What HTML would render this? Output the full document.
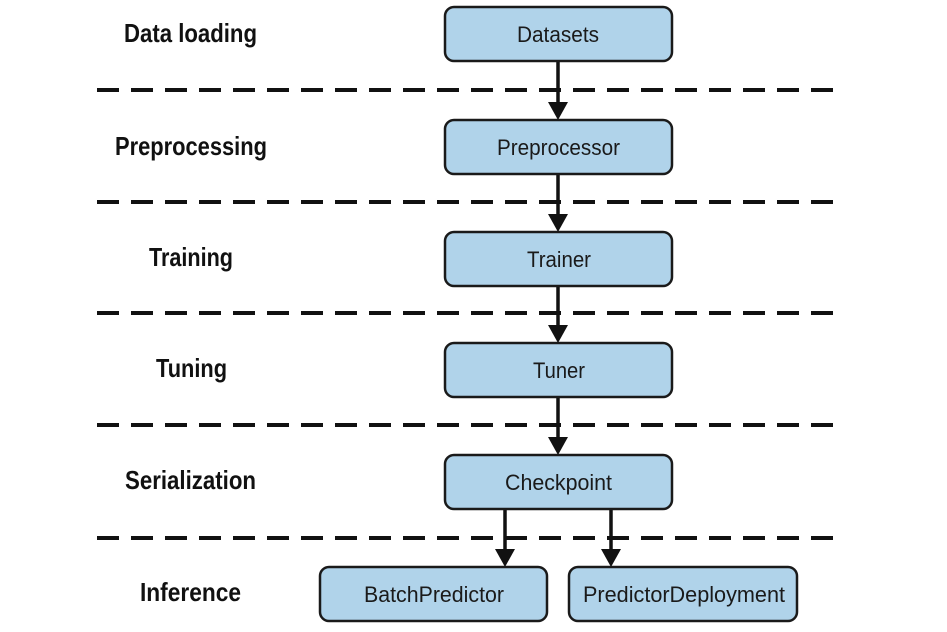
<!DOCTYPE html>
<html><head><meta charset="utf-8"><style>
body{margin:0;background:#fff;width:947px;height:632px;overflow:hidden}
svg{display:block}
.l{font-family:"Liberation Sans",sans-serif;font-weight:bold;font-size:26px;fill:#111}
.b{font-family:"Liberation Sans",sans-serif;font-size:22px;fill:#1a1a1a}
rect{fill:#b0d3ea;stroke:#1a1a1a;stroke-width:2.5}
.d{stroke:#111;stroke-width:4;stroke-dasharray:22 12}
.a{stroke:#111;stroke-width:3.5}
</style></head><body>
<svg width="947" height="632">
<g>
<line class="d" x1="97" y1="90" x2="835" y2="90"/>
<line class="d" x1="97" y1="202" x2="835" y2="202"/>
<line class="d" x1="97" y1="313" x2="835" y2="313"/>
<line class="d" x1="97" y1="425" x2="835" y2="425"/>
<line class="d" x1="97" y1="538" x2="835" y2="538"/>
</g>
<g fill="#111">
<line class="a" x1="558" y1="61" x2="558" y2="104"/><path d="M548,102 L568,102 L558,120z"/>
<line class="a" x1="558" y1="174" x2="558" y2="216"/><path d="M548,214 L568,214 L558,232z"/>
<line class="a" x1="558" y1="286" x2="558" y2="327"/><path d="M548,325 L568,325 L558,343z"/>
<line class="a" x1="558" y1="397" x2="558" y2="439"/><path d="M548,437 L568,437 L558,455z"/>
<line class="a" x1="505" y1="509" x2="505" y2="551"/><path d="M495,549 L515,549 L505,567z"/>
<line class="a" x1="611" y1="509" x2="611" y2="551"/><path d="M601,549 L621,549 L611,567z"/>
</g>
<rect x="445" y="7" width="227" height="54" rx="9"/>
<rect x="445" y="120" width="227" height="54" rx="9"/>
<rect x="445" y="232" width="227" height="54" rx="9"/>
<rect x="445" y="343" width="227" height="54" rx="9"/>
<rect x="445" y="455" width="227" height="54" rx="9"/>
<rect x="320" y="567" width="227" height="54" rx="9"/>
<rect x="569" y="567" width="228" height="54" rx="9"/>
<g class="b" lengthAdjust="spacingAndGlyphs">
<text x="517" y="42" textLength="82" lengthAdjust="spacingAndGlyphs">Datasets</text>
<text x="497" y="155" textLength="123" lengthAdjust="spacingAndGlyphs">Preprocessor</text>
<text x="527" y="267" textLength="64" lengthAdjust="spacingAndGlyphs">Trainer</text>
<text x="533" y="378" textLength="52" lengthAdjust="spacingAndGlyphs">Tuner</text>
<text x="505" y="490" textLength="107" lengthAdjust="spacingAndGlyphs">Checkpoint</text>
<text x="364" y="602" textLength="140" lengthAdjust="spacingAndGlyphs">BatchPredictor</text>
<text x="583" y="602" textLength="202" lengthAdjust="spacingAndGlyphs">PredictorDeployment</text>
</g>
<g class="l">
<text x="124" y="42" textLength="133" lengthAdjust="spacingAndGlyphs">Data loading</text>
<text x="115" y="155" textLength="152" lengthAdjust="spacingAndGlyphs">Preprocessing</text>
<text x="149" y="266" textLength="84" lengthAdjust="spacingAndGlyphs">Training</text>
<text x="156" y="377" textLength="71" lengthAdjust="spacingAndGlyphs">Tuning</text>
<text x="125" y="489" textLength="131" lengthAdjust="spacingAndGlyphs">Serialization</text>
<text x="140" y="601" textLength="101" lengthAdjust="spacingAndGlyphs">Inference</text>
</g>
</svg>
</body></html>
